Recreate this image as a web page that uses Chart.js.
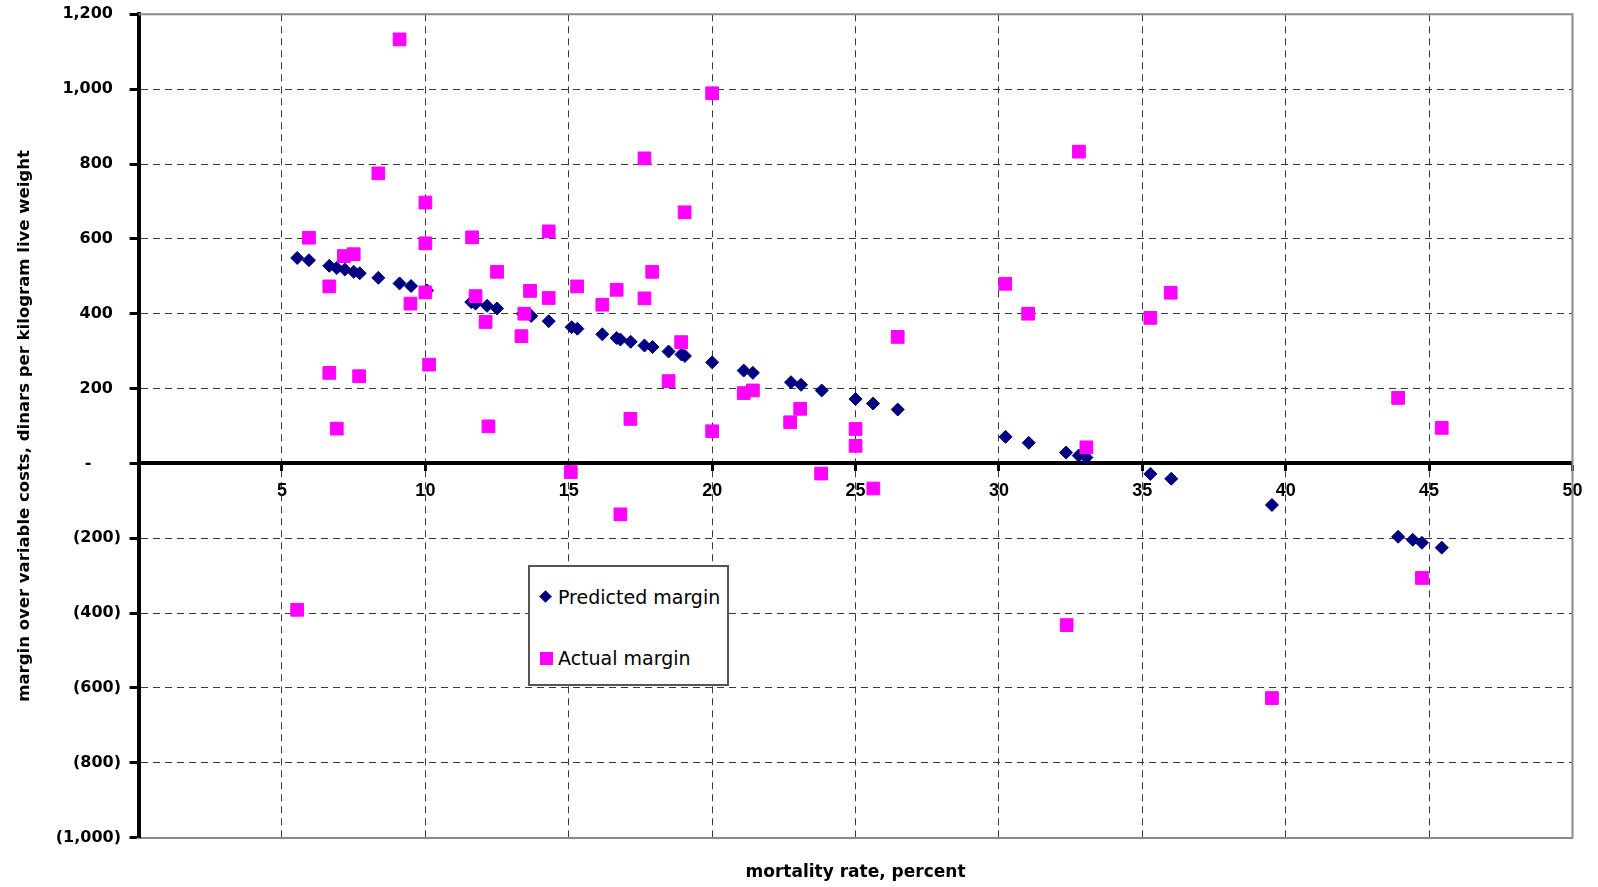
<!DOCTYPE html>
<html>
<head>
<meta charset="utf-8">
<script src="https://cdn.jsdelivr.net/npm/chart.js@4.4.1/dist/chart.umd.min.js"></script>
<style>
  html, body { margin: 0; padding: 0; background: #fff; }
  #wrap { position: relative; width: 1598px; height: 887px; }
  #legend {
    position: absolute; left: 528px; top: 565px; width: 201px; height: 121px;
    box-sizing: border-box; border: 2px solid #555; background: #fff;
    font-family: "DejaVu Sans", sans-serif; font-size: 19px; color: #000;
  }
  #legend .item { position: absolute; left: 0; line-height: 19px; white-space: nowrap; }
  #legend .mark { position: absolute; }
  #legend .txt { position: absolute; left: 28px; }
</style>
</head>
<body>
<div id="wrap">
  <canvas id="myChart"></canvas>
  <div id="legend"></div>
</div>
<script>
// mortality rate (%) and predicted margin
const predX = [5.53, 5.94, 6.65, 6.91, 7.19, 7.5, 7.71, 8.36, 9.1, 9.5,
  10.06, 11.6, 11.75, 12.15, 12.5, 13.4, 13.69, 14.3, 15.1, 15.3,
  16.17, 16.67, 16.8, 17.16, 17.64, 17.92, 18.48, 18.93, 19.05, 20.0,
  21.1, 21.42, 22.75, 23.1, 23.82, 25.0, 25.61, 26.47, 30.23, 31.04,
  32.34, 32.78, 33.05, 35.28, 36.01, 39.52, 43.92, 44.43, 44.75, 45.44];
const predY = [549, 543, 528, 522, 518, 512, 508, 496, 481, 474,
  462, 431, 427, 421, 414, 400, 394, 380, 364, 360,
  345, 335, 331, 325, 315, 311, 299, 291, 287, 270,
  248, 242, 217, 210, 195, 172, 160, 144, 71, 55,
  29, 21, 16, -28, -41, -111, -196, -204, -212, -225];

// mortality rate (%) and actual margin
const actX = [5.53, 5.94, 6.65, 6.65, 6.91, 7.16, 7.5, 7.69, 8.36, 9.1,
  9.48, 10.0, 10.0, 10.0, 10.13, 11.63, 11.75, 12.1, 12.2, 12.5,
  13.35, 13.45, 13.65, 14.3, 14.3, 15.07, 15.29, 16.17, 16.67, 16.8,
  17.15, 17.64, 17.64, 17.91, 18.48, 18.92, 19.04, 20.0, 20.0, 21.1,
  21.42, 22.72, 23.07, 23.8, 25.0, 25.0, 25.62, 26.47, 30.22, 31.02,
  32.36, 32.79, 33.05, 35.28, 35.99, 39.52, 43.92, 44.75, 45.44];
const actY = [-391, 603, 473, 242, 93, 554, 559, 233, 775, 1133,
  427, 697, 588, 457, 264, 604, 447, 378, 99, 512,
  340, 400, 461, 620, 442, -23, 473, 424, 464, -136,
  119, 815, 441, 512, 220, 324, 671, 989, 86, 188,
  195, 110, 146, -27, 92, 47, -67, 338, 480, 400,
  -432, 833, 43, 389, 456, -627, 175, -306, 95];

const seriesNames = ["Predicted margin", "Actual margin"];
const xTitle = "mortality rate, percent";
const yTitle = "margin over variable costs, dinars per kilogram live weight";

const NAVY = "#000080";
const MAGENTA = "#FF00FF";
const GRID = "#3a3a3a";

const toPoints = (xs, ys) => xs.map((x, i) => ({ x: x, y: ys[i] }));

// accounting style: positives keep room for the closing bracket, zero is a dash
function yLabel(v) {
  if (v === 0) return "-\u2003\u2002 ";
  const s = Math.abs(v).toLocaleString("en-US");
  return v < 0 ? "(" + s + ")" : s + "\u2002";
}

// gray frame on top and right of the plot area
const frame = {
  id: "frame",
  beforeDatasetsDraw(chart) {
    const { ctx, chartArea: a } = chart;
    ctx.save();
    ctx.strokeStyle = "#8a8a8a";
    ctx.lineWidth = 2;
    ctx.beginPath();
    ctx.moveTo(a.left, a.top);
    ctx.lineTo(a.right, a.top);
    ctx.lineTo(a.right, a.bottom);
    ctx.stroke();
    ctx.restore();
  }
};

const myChart = new Chart(document.getElementById("myChart").getContext("2d"), {
  type: "scatter",
  data: {
    datasets: [
      {
        label: seriesNames[0],
        data: toPoints(predX, predY),
        pointStyle: "rectRot",
        pointRadius: 6.5,
        backgroundColor: NAVY,
        borderColor: NAVY,
        borderWidth: 1,
        order: 1
      },
      {
        label: seriesNames[1],
        data: toPoints(actX, actY),
        pointStyle: "rect",
        pointRadius: 9,
        backgroundColor: MAGENTA,
        borderColor: MAGENTA,
        borderWidth: 1,
        order: 0
      }
    ]
  },
  options: {
    responsive: true,
    maintainAspectRatio: false,
    animation: false,
    layout: { padding: { top: 14.3, right: 25.5, left: 0, bottom: 0 } },
    plugins: { legend: { display: false }, tooltip: { enabled: false } },
    scales: {
      x: {
        type: "linear",
        position: { y: 0 },
        min: 0,
        max: 50,
        ticks: {
          stepSize: 5,
          padding: 11,
          color: "#000",
          font: { family: "'Liberation Sans', Arial, sans-serif", size: 18, weight: "bold" },
          callback: v => (v === 0 ? "" : String(v))
        },
        grid: {
          color: c => (c.tick && (c.tick.value === 0 || c.tick.value === 50) ? "rgba(0,0,0,0)" : GRID),
          lineWidth: 1,
          tickLength: 6,
          tickColor: "#000",
          tickWidth: 3,
          tickBorderDash: []
        },
        border: { color: "#000", width: 4, dash: [7, 5] },
        afterFit: s => { s.paddingLeft = 0; s.paddingRight = 0; }
      },
      x2: {
        type: "linear",
        axis: "x",
        position: "bottom",
        min: 0,
        max: 50,
        ticks: { display: false },
        grid: { display: false, drawTicks: false },
        border: { color: "#8a8a8a", width: 2 },
        title: {
          display: true,
          text: xTitle,
          color: "#000",
          font: { family: "'DejaVu Sans', sans-serif", size: 17, weight: "bold" },
          padding: { top: 0, bottom: 4 }
        },
        afterFit: s => { s.height = 49.3; s.paddingLeft = 0; s.paddingRight = 0; }
      },
      y: {
        type: "linear",
        min: -1000,
        max: 1200,
        ticks: {
          stepSize: 200,
          padding: 8.6,
          color: "#000",
          font: { family: "'DejaVu Sans', sans-serif", size: 16, weight: "bold" },
          callback: v => yLabel(v)
        },
        grid: {
          color: c => (c.tick && (c.tick.value === 0 || c.tick.value === 1200 || c.tick.value === -1000) ? "rgba(0,0,0,0)" : GRID),
          lineWidth: 1,
          tickLength: 9,
          tickColor: "#000",
          tickWidth: 3,
          tickBorderDash: []
        },
        border: { color: "#000", width: 4, dash: [7, 5] },
        title: {
          display: true,
          text: yTitle,
          color: "#000",
          font: { family: "'DejaVu Sans', sans-serif", size: 16.5, weight: "bold" },
          padding: { top: 15, bottom: 0 }
        },
        afterFit: s => { s.width = 138.6; s.paddingTop = 0; s.paddingBottom = 0; }
      }
    }
  },
  plugins: [frame]
});

// legend box built from the chart's datasets
(function buildLegend() {
  const box = document.getElementById("legend");
  const rows = [
    { top: 21, mark: "diamond" },
    { top: 82, mark: "square" }
  ];
  myChart.data.datasets.forEach((ds, i) => {
    const r = rows[i];
    const item = document.createElement("div");
    item.className = "item";
    item.style.top = r.top + "px";
    const mark = document.createElement("div");
    mark.className = "mark";
    if (r.mark === "diamond") {
      Object.assign(mark.style, { left: "11px", top: "4px", width: "9px", height: "9px",
        background: ds.backgroundColor, transform: "rotate(45deg)" });
    } else {
      Object.assign(mark.style, { left: "10px", top: "3px", width: "13px", height: "13px",
        background: ds.backgroundColor });
    }
    const txt = document.createElement("span");
    txt.className = "txt";
    txt.textContent = ds.label;
    item.appendChild(mark);
    item.appendChild(txt);
    box.appendChild(item);
  });
})();
</script>
</body>
</html>
